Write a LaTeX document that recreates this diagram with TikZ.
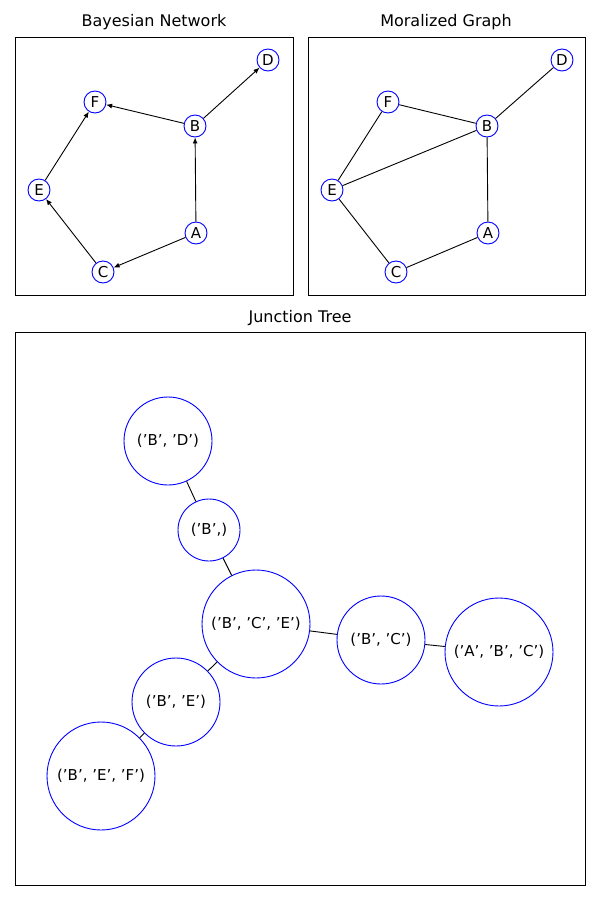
\documentclass[tikz,border=0pt]{standalone}
\usepackage{fontspec}
\defaultfontfeatures{}
\setmainfont{DejaVu Sans}
\usetikzlibrary{arrows.meta}
\tikzset{
  vtx/.style={circle,draw=blue,fill=white,inner sep=0pt,minimum size=22pt,font=\fontsize{15}{16}\selectfont},
  clq/.style={circle,draw=blue,fill=white,inner sep=0pt,font=\fontsize{15}{16}\selectfont},
  arr/.style={-{Latex[length=6pt,width=5pt]}},
  ttl/.style={font=\fontsize{16}{18}\selectfont}
}
\begin{document}
\begin{tikzpicture}[x=1pt,y=-1pt,line width=0.9pt]
  \useasboundingbox (0,0) rectangle (600,900);
  % frames and titles
  \draw (15,37) rectangle (293,295);
  \draw (308,37) rectangle (585,295);
  \draw (15,332) rectangle (585,885);
  \node[ttl] at (154,22) {Bayesian Network};
  \node[ttl] at (446,22) {Moralized Graph};
  \node[ttl] at (300,318) {Junction Tree};
  % bayesian network
  \node[vtx] (bd) at (268,60) {D};
  \node[vtx] (bf) at (95,102) {F};
  \node[vtx] (bb) at (195,126) {B};
  \node[vtx] (be) at (39,190) {E};
  \node[vtx] (ba) at (196,233) {A};
  \node[vtx] (bc) at (103,272) {C};
  \draw[arr] (bb) -- (bd);
  \draw[arr] (bb) -- (bf);
  \draw[arr] (ba) -- (bb);
  \draw[arr] (ba) -- (bc);
  \draw[arr] (bc) -- (be);
  \draw[arr] (be) -- (bf);
  % moralized graph
  \node[vtx] (md) at (562,60) {D};
  \node[vtx] (mf) at (388,102) {F};
  \node[vtx] (mb) at (487,126) {B};
  \node[vtx] (me) at (332,190) {E};
  \node[vtx] (ma) at (488,233) {A};
  \node[vtx] (mc) at (396,272) {C};
  \draw (mf) -- (mb) (mf) -- (me) (mb) -- (md) (mb) -- (me)
        (mb) -- (ma) (me) -- (mc) (mc) -- (ma);
  % junction tree
  \node[clq,minimum size=88pt] (jbd) at (168,441) {('B', 'D')};
  \node[clq,minimum size=62pt] (jb) at (209,530) {('B',)};
  \node[clq,minimum size=108pt] (jbce) at (256,624) {('B', 'C', 'E')};
  \node[clq,minimum size=88pt] (jbc) at (381,640) {('B', 'C')};
  \node[clq,minimum size=108pt] (jabc) at (499,652) {('A', 'B', 'C')};
  \node[clq,minimum size=88pt] (jbe) at (176,702) {('B', 'E')};
  \node[clq,minimum size=108pt] (jbef) at (101,776) {('B', 'E', 'F')};
  \draw (jbd) -- (jb) (jb) -- (jbce) (jbce) -- (jbc) (jbc) -- (jabc)
        (jbce) -- (jbe) (jbe) -- (jbef);
\end{tikzpicture}
\end{document}
